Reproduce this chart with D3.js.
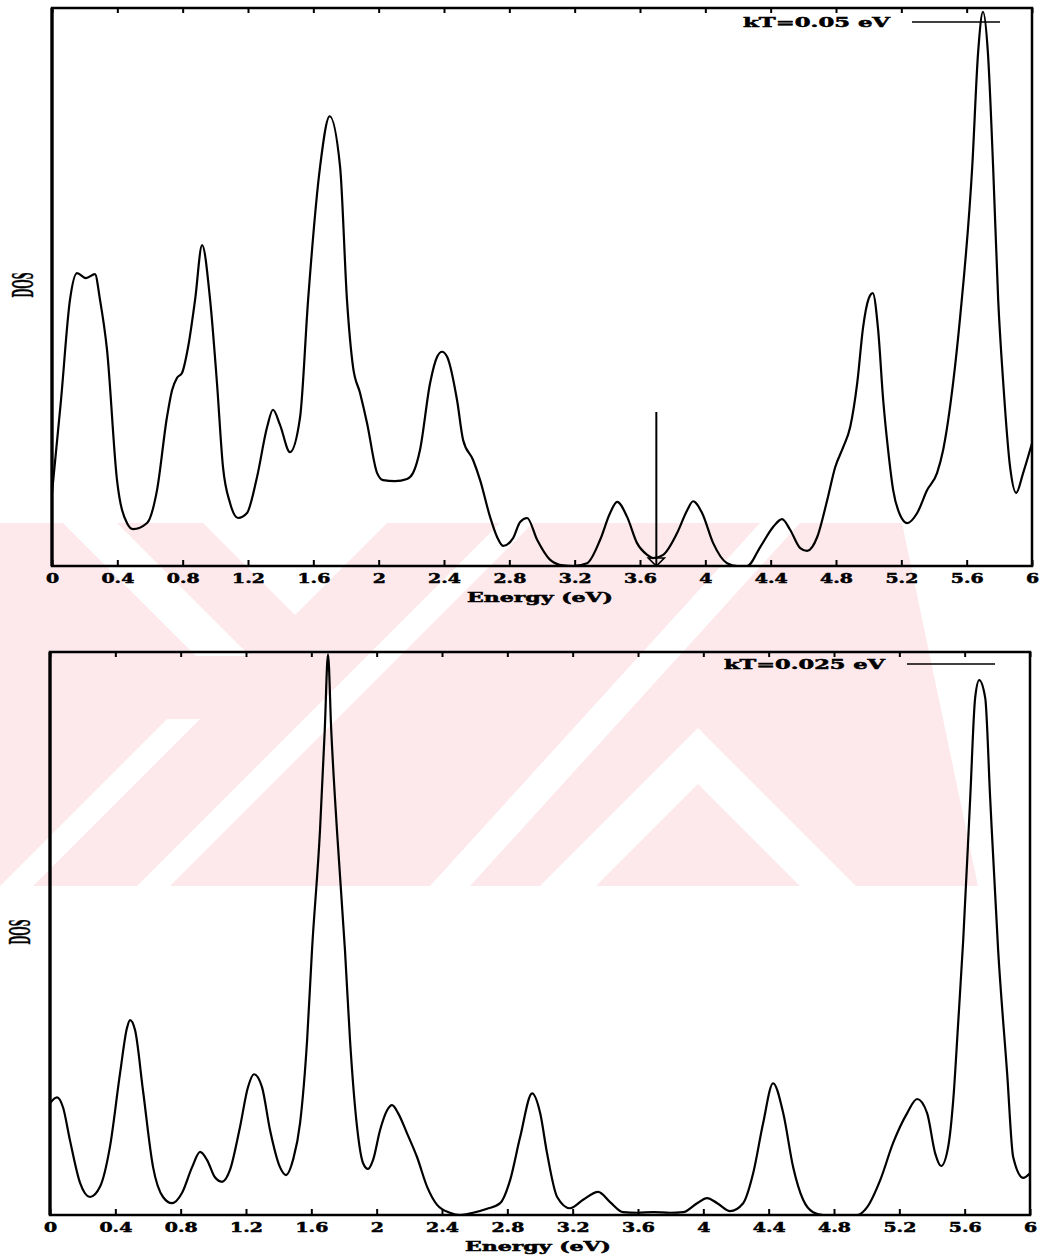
<!DOCTYPE html>
<html>
<head>
<meta charset="utf-8">
<script src="https://cdn.jsdelivr.net/npm/d3@7"></script>
<style>
  html, body { margin: 0; padding: 0; background: #fff; }
  svg { display: block; }
</style>
</head>
<body>
<svg id="chart" width="1051" height="1259"></svg>
<script>
// ---- data -------------------------------------------------------------
const xTicks = [0, 0.4, 0.8, 1.2, 1.6, 2, 2.4, 2.8, 3.2, 3.6, 4, 4.4, 4.8, 5.2, 5.6, 6];
const tickLabels = ["0", "0.4", "0.8", "1.2", "1.6", "2", "2.4", "2.8", "3.2", "3.6", "4", "4.4", "4.8", "5.2", "5.6", "6"];

const xTitle = "Energy (eV)";
const yTitle = "DOS";

// kT = 0.05 eV
const legend05 = "kT=0.05 eV";
const energy05 = [0, 0.055, 0.11, 0.153, 0.208, 0.263, 0.294, 0.337, 0.398, 0.459, 0.496, 0.582, 0.643, 0.704, 0.735, 0.765, 0.796, 0.833, 0.876, 0.919, 0.968, 1.01, 1.047, 1.09, 1.139, 1.194, 1.255, 1.317, 1.353, 1.396, 1.457, 1.519, 1.568, 1.641, 1.70, 1.764, 1.806, 1.843, 1.886, 1.929, 1.99, 2.027, 2.10, 2.174, 2.211, 2.253, 2.315, 2.358, 2.388, 2.419, 2.48, 2.517, 2.578, 2.621, 2.682, 2.725, 2.762, 2.823, 2.866, 2.909, 2.97, 3.05, 3.129, 3.19, 3.276, 3.356, 3.417, 3.46, 3.521, 3.582, 3.644, 3.68, 3.742, 3.827, 3.889, 3.925, 3.98, 4.048, 4.133, 4.195, 4.256, 4.336, 4.415, 4.47, 4.519, 4.581, 4.623, 4.685, 4.746, 4.795, 4.844, 4.887, 4.93, 4.966, 5.0, 5.025, 5.058, 5.089, 5.119, 5.15, 5.193, 5.236, 5.297, 5.358, 5.419, 5.456, 5.517, 5.56, 5.634, 5.67, 5.70, 5.73, 5.762, 5.793, 5.824, 5.866, 5.903, 5.946, 6.0];
const dos05 = [13.1, 29.7, 47.7, 52.5, 51.6, 52.3, 47.7, 38.7, 15.4, 7.7, 6.6, 7.7, 13.6, 26.7, 31.5, 33.7, 34.6, 39.2, 47.7, 57.5, 47.7, 32.8, 17.7, 11.3, 8.6, 9.5, 15.9, 24.9, 28.0, 25.3, 20.4, 26.7, 47.7, 71.5, 80.6, 71.5, 47.7, 35.7, 31.0, 25.6, 16.7, 15.4, 15.2, 15.6, 16.7, 20.8, 32.8, 37.5, 38.4, 37.5, 29.7, 22.6, 19.0, 15.4, 8.8, 5.2, 3.6, 5.0, 7.9, 8.6, 4.7, 1.1, 0.1, 0, 0.5, 4.7, 9.5, 11.5, 8.8, 4.1, 2.0, 1.4, 2.0, 5.9, 10.0, 11.6, 9.5, 4.1, 0.5, 0, 0, 3.4, 7.0, 8.4, 6.5, 3.2, 2.7, 5.2, 11.8, 17.7, 21.3, 24.9, 32.8, 42.8, 47.9, 48.9, 42.3, 29.7, 20.8, 13.6, 9.1, 7.7, 9.5, 13.6, 16.7, 20.8, 32.8, 44.6, 71.5, 92.0, 99.3, 92.0, 71.5, 47.7, 32.8, 17.7, 13.1, 16.7, 22.0];
// Fermi level marker for the kT = 0.05 eV curve
const fermiEnergy = 3.7;
const fermiMarkerTop = 27.6;

// kT = 0.025 eV
const legend025 = "kT=0.025 eV";
const energy025 = [0, 0.043, 0.08, 0.122, 0.184, 0.245, 0.306, 0.367, 0.429, 0.472, 0.49, 0.521, 0.569, 0.631, 0.692, 0.747, 0.808, 0.87, 0.919, 0.961, 1.01, 1.053, 1.102, 1.163, 1.212, 1.249, 1.298, 1.347, 1.408, 1.445, 1.488, 1.531, 1.574, 1.604, 1.653, 1.682, 1.702, 1.722, 1.757, 1.806, 1.837, 1.88, 1.917, 1.947, 1.978, 2.021, 2.064, 2.094, 2.131, 2.186, 2.247, 2.309, 2.37, 2.449, 2.511, 2.59, 2.676, 2.756, 2.817, 2.878, 2.952, 3.001, 3.043, 3.105, 3.184, 3.264, 3.356, 3.429, 3.509, 3.595, 3.693, 3.797, 3.876, 3.962, 4.023, 4.085, 4.164, 4.244, 4.305, 4.366, 4.427, 4.489, 4.55, 4.611, 4.672, 4.734, 4.838, 4.942, 5.003, 5.083, 5.162, 5.248, 5.309, 5.37, 5.419, 5.456, 5.499, 5.53, 5.56, 5.591, 5.634, 5.664, 5.689, 5.726, 5.756, 5.805, 5.86, 5.897, 5.958, 6.0];
const dos025 = [19.9, 20.9, 19.1, 13.3, 5.7, 3.2, 5.0, 12.1, 25.2, 33.3, 34.6, 32.8, 22.2, 8.5, 3.2, 2.1, 3.9, 8.5, 11.2, 9.8, 6.7, 5.9, 8.0, 15.6, 22.7, 25.0, 22.7, 15.1, 8.5, 7.1, 9.8, 16.3, 31.0, 47.0, 68.3, 86.0, 99.6, 86.0, 68.3, 47.0, 31.0, 15.6, 9.2, 8.2, 9.8, 15.1, 18.6, 19.5, 18.1, 14.5, 10.3, 5.0, 1.8, 0.4, 0, 0.4, 1.1, 2.1, 6.2, 13.8, 21.6, 18.1, 11.0, 3.2, 1.2, 2.7, 4.1, 2.3, 0.5, 0.4, 0.5, 0.4, 0.5, 2.1, 3.0, 2.1, 0.7, 2.1, 7.4, 16.3, 23.4, 18.1, 8.5, 2.7, 0.5, 0, 0, 0, 1.4, 6.2, 12.8, 18.1, 20.6, 18.1, 11.0, 8.7, 12.1, 20.4, 34.0, 48.8, 74.1, 91.8, 95.0, 91.8, 74.1, 47.0, 25.2, 10.3, 6.6, 7.4];

// ---- drawing ----------------------------------------------------------
const svg = d3.select("#chart");
const tickFont = "'DejaVu Serif', serif";
const labelFont = "'Liberation Serif', 'Times New Roman', serif";

// faint background emblem: a pink field with white diagonal cut-outs
const eTop = 523, eBot = 886;
const emblem = svg.append("g");
const pinkShapes = [
  [[0, eTop], [902, eTop], [978, eBot], [0, eBot]]
];
const whiteShapes = [
  [[0, eBot], [33, eBot], [200, 719], [167, 719]],                 // lower-left "/" gap
  [[63, eTop], [117, eTop], [250, 656], [196, 656]],               // upper-left "\" gap
  [[203, eTop], [387, eTop], [295, 615]],                          // notch
  [[137, eBot], [170, eBot], [533, eTop], [500, eTop]],            // long "/" gap
  [[430, eBot], [470, eBot], [800, eTop], [760, eTop]],            // second "/" gap
  [[540, eBot], [698, 728], [856, eBot], [800, eBot], [698, 784], [596, eBot]] // chevron gap
];
const poly = pts => pts.map(p => p.join(",")).join(" ");
emblem.selectAll(".pink").data(pinkShapes).join("polygon")
  .attr("points", poly).attr("fill", "#fde8ec");
emblem.selectAll(".gap").data(whiteShapes).join("polygon")
  .attr("class", "gap").attr("points", poly).attr("fill", "#fff");

function drawPanel(cfg) {
  const x = d3.scaleLinear().domain([0, 6]).range([cfg.left, cfg.right]);
  const y = d3.scaleLinear().domain([0, 100]).range([cfg.bottom, cfg.top]);
  const g = svg.append("g");

  // bottom axis with labelled inward ticks
  const ax = g.append("g")
    .attr("transform", `translate(0,${cfg.bottom})`)
    .call(d3.axisBottom(x).tickValues(xTicks)
      .tickFormat((d, i) => tickLabels[i])
      .tickSizeInner(-6).tickSizeOuter(0).tickPadding(8));
  ax.select(".domain").remove();
  ax.attr("font-family", tickFont).attr("font-size", 13).attr("font-weight", "bold");
  ax.selectAll(".tick line").attr("stroke", "#000").attr("stroke-width", 2);
  ax.selectAll(".tick text")
    .attr("fill", "#000").attr("stroke", "#000").attr("stroke-width", 0.5)
    .each(function () {
      const w = this.getComputedTextLength();
      d3.select(this).attr("textLength", w * 1.45).attr("lengthAdjust", "spacingAndGlyphs");
    });

  // top axis: ticks only
  const at = g.append("g")
    .attr("transform", `translate(0,${cfg.top})`)
    .call(d3.axisTop(x).tickValues(xTicks).tickFormat("")
      .tickSizeInner(-5).tickSizeOuter(0));
  at.select(".domain").remove();
  at.selectAll(".tick line").attr("stroke", "#000").attr("stroke-width", 2);

  // frame
  g.append("rect")
    .attr("x", cfg.left).attr("y", cfg.top)
    .attr("width", cfg.right - cfg.left).attr("height", cfg.bottom - cfg.top)
    .attr("fill", "none").attr("stroke", "#000").attr("stroke-width", 2.5);
  g.append("line")
    .attr("x1", cfg.left).attr("x2", cfg.left)
    .attr("y1", cfg.top).attr("y2", cfg.bottom)
    .attr("stroke", "#000").attr("stroke-width", 3.2);

  // DOS curve
  const pts = cfg.energy.map((e, i) => [e, cfg.dos[i]]);
  const line = d3.line().x(d => x(d[0])).y(d => y(d[1])).curve(d3.curveMonotoneX);
  g.append("path").datum(pts)
    .attr("d", line)
    .attr("fill", "none").attr("stroke", "#000").attr("stroke-width", 2.2)
    .attr("stroke-linejoin", "round");

  // axis titles
  g.append("text")
    .attr("x", (cfg.left + cfg.right) / 2 - 2).attr("y", cfg.bottom + 36)
    .attr("text-anchor", "middle")
    .attr("font-family", tickFont).attr("font-size", 13).attr("font-weight", "bold")
    .attr("stroke", "#000").attr("stroke-width", 0.5)
    .attr("textLength", 146).attr("lengthAdjust", "spacingAndGlyphs")
    .text(xTitle);

  g.append("text")
    .attr("transform", `translate(${cfg.yTitleX},${cfg.yTitleY}) rotate(-90)`)
    .attr("text-anchor", "middle")
    .attr("font-family", labelFont).attr("font-size", 31).attr("font-weight", "bold")
    .attr("stroke", "#000").attr("stroke-width", 0.4)
    .attr("textLength", 25).attr("lengthAdjust", "spacingAndGlyphs")
    .text(yTitle);

  // legend
  g.append("text")
    .attr("x", cfg.legendX).attr("y", cfg.top + cfg.legendDy)
    .attr("font-family", tickFont).attr("font-size", 13).attr("font-weight", "bold")
    .attr("stroke", "#000").attr("stroke-width", 0.5)
    .attr("textLength", cfg.legendLen).attr("lengthAdjust", "spacingAndGlyphs")
    .text(cfg.legend);
  g.append("line")
    .attr("x1", cfg.legendLine[0]).attr("x2", cfg.legendLine[1])
    .attr("y1", cfg.top + cfg.legendDy - 5).attr("y2", cfg.top + cfg.legendDy - 5)
    .attr("stroke", "#000").attr("stroke-width", 1.6);

  return { x, y, g };
}

const panelA = drawPanel({
  left: 52, right: 1032, top: 8, bottom: 566,
  energy: energy05, dos: dos05,
  legend: legend05, legendX: 743, legendDy: 19, legendLen: 147, legendLine: [912, 1000],
  yTitleX: 33, yTitleY: 285
});

// Fermi level arrow
const fx = panelA.x(fermiEnergy);
const fy0 = panelA.y(0);
panelA.g.append("line")
  .attr("x1", fx).attr("x2", fx)
  .attr("y1", panelA.y(fermiMarkerTop)).attr("y2", fy0)
  .attr("stroke", "#000").attr("stroke-width", 2);
panelA.g.append("path")
  .attr("d", `M${fx - 8},${fy0 - 8} L${fx + 8},${fy0 - 8} L${fx},${fy0} Z`)
  .attr("fill", "none").attr("stroke", "#000").attr("stroke-width", 1.6);

drawPanel({
  left: 50, right: 1030, top: 652, bottom: 1215,
  energy: energy025, dos: dos025,
  legend: legend025, legendX: 724, legendDy: 17, legendLen: 161, legendLine: [907, 995],
  yTitleX: 30, yTitleY: 932
});
</script>
</body>
</html>
